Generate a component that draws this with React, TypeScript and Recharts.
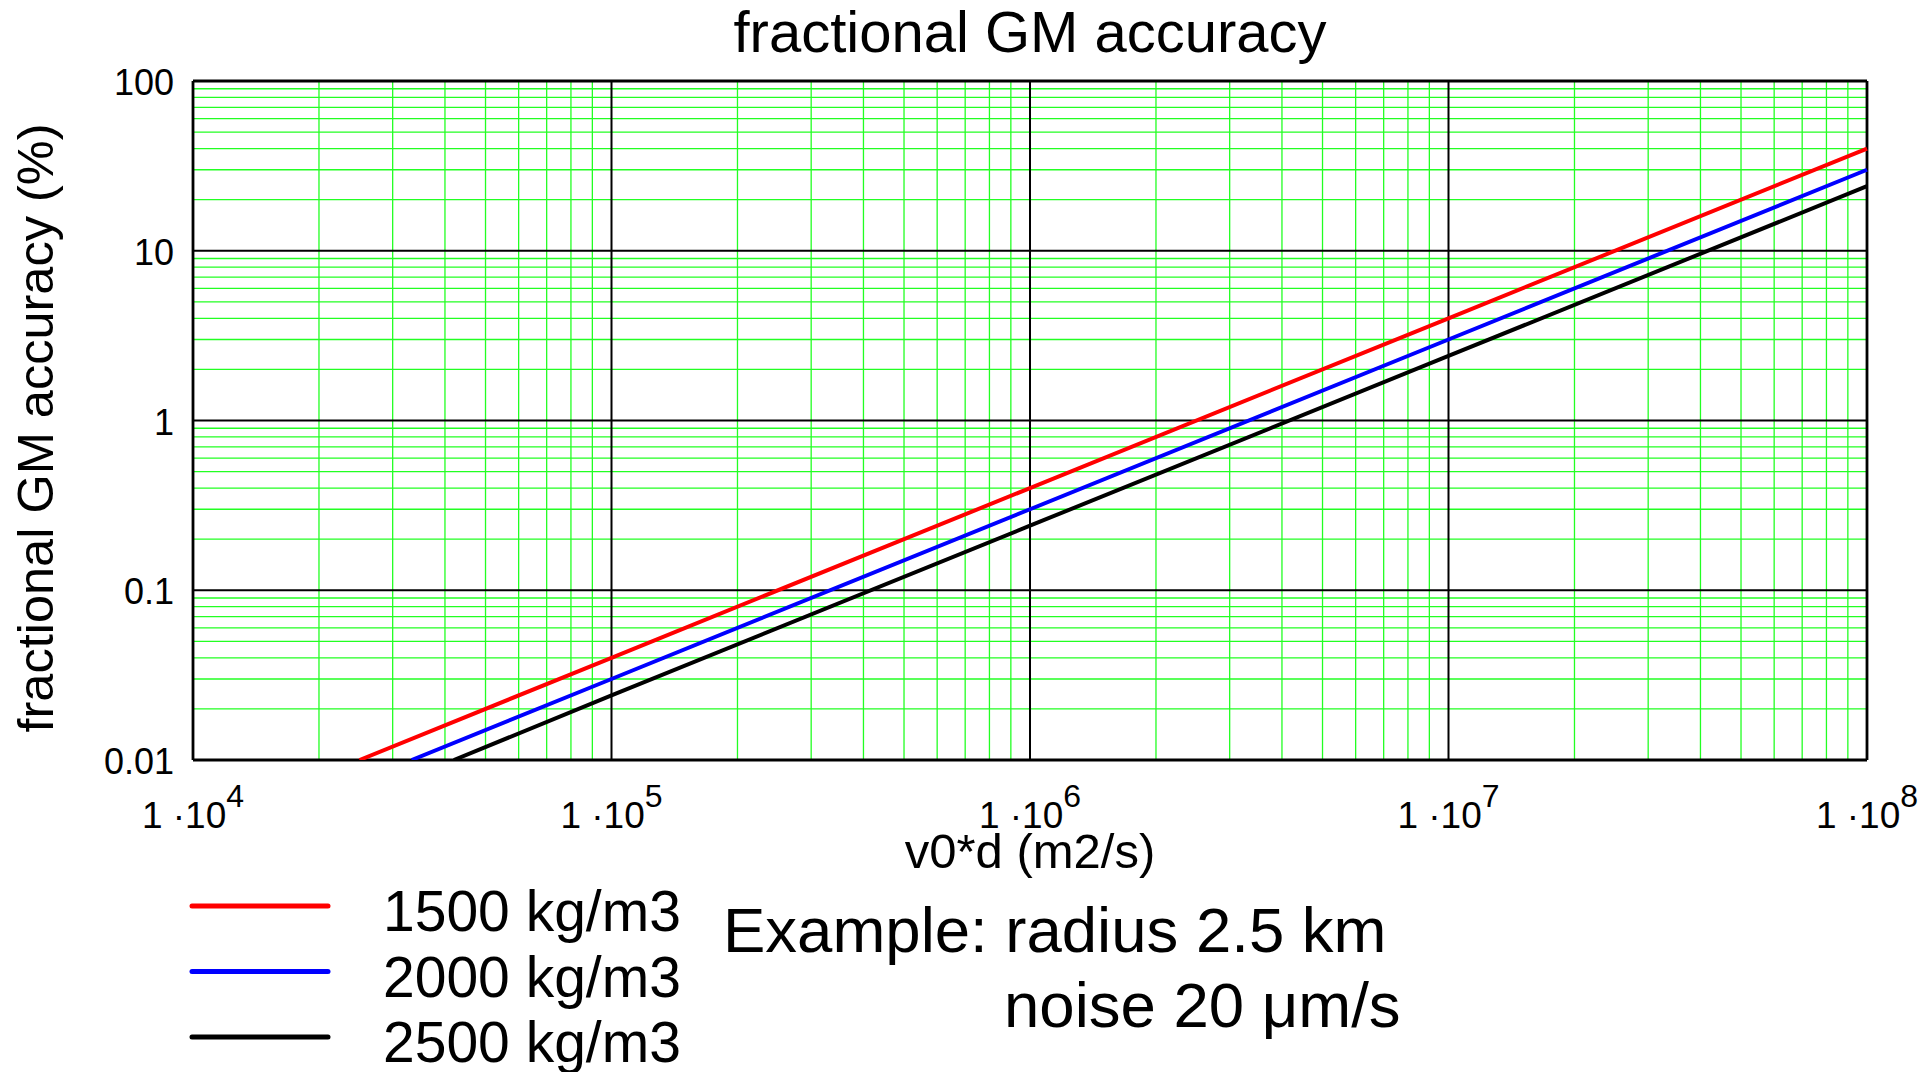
import { Legend, Line, LineChart, ReferenceLine, XAxis, YAxis } from "recharts";

const FONT = '"Liberation Sans", Arial, sans-serif';

// v0*d (m2/s) vs fractional GM accuracy (%)
const vd1500 = [2.5e4, 1e5, 1e6, 1e7, 1e8];
const acc1500 = [0.01, 0.04, 0.4, 4, 40];
const vd2000 = [3.33e4, 1e5, 1e6, 1e7, 1e8];
const acc2000 = [0.01, 0.03, 0.3, 3, 30];
const vd2500 = [4.2e4, 1e5, 1e6, 1e7, 1e8];
const acc2500 = [0.01, 0.024, 0.24, 2.4, 24];

const xTicks = [1e4, 1e5, 1e6, 1e7, 1e8];
const yTicks = [0.01, 0.1, 1, 10, 100];
const yTickLabels = ["0.01", "0.1", "1", "10", "100"];
const mantissas = [2, 3, 4, 5, 6, 7, 8, 9];

const xMinor = xTicks.slice(0, -1).flatMap((d) => mantissas.map((m) => m * d));
const yMinor = yTicks.slice(0, -1).flatMap((d) => mantissas.map((m) => +(m * d).toPrecision(3)));

const toRows = (xs: number[], ys: number[]) => xs.map((x, i) => ({ vd: x, acc: ys[i] }));

const series = [
  { name: "1500 kg/m3", color: "#ff0000", data: toRows(vd1500, acc1500) },
  { name: "2000 kg/m3", color: "#0000ff", data: toRows(vd2000, acc2000) },
  { name: "2500 kg/m3", color: "#000000", data: toRows(vd2500, acc2500) },
];

const XTick = (props: any) => {
  const { x, y, payload } = props;
  const exp = Math.round(Math.log10(payload.value));
  return (
    <text x={x} y={y + 60} textAnchor="middle" fontSize={37} fontFamily={FONT} fill="#000">
      <tspan>1 ·10</tspan>
      <tspan dy={-21} fontSize={32}>
        {exp}
      </tspan>
    </text>
  );
};

const YTick = (props: any) => {
  const { x, y, payload } = props;
  const idx = yTicks.findIndex((t) => Math.abs(t - payload.value) < t * 1e-6);
  return (
    <text x={x} y={y + 14} textAnchor="end" fontSize={36} fontFamily={FONT} fill="#000">
      {idx >= 0 ? yTickLabels[idx] : payload.value}
    </text>
  );
};

const LegendBox = (props: any) => {
  const items = props.payload || [];
  return (
    <svg width={540} height={202}>
      {items.map((it: any, i: number) => (
        <g key={it.value}>
          <line x1={12} x2={148} y1={36 + 65.5 * i} y2={36 + 65.5 * i} stroke={it.color} strokeWidth={5} strokeLinecap="round" />
          <text x={203} y={61 + 65.5 * i} fontSize={57} fontFamily={FONT} fill="#000">
            {it.value}
          </text>
        </g>
      ))}
    </svg>
  );
};

export default function App() {
  return (
    <div style={{ position: "absolute", left: 0, top: 0, background: "#fff" }}>
      <LineChart width={1926} height={1072} margin={{ top: 81, right: 59, left: 93, bottom: 252 }}>
        <XAxis
          dataKey="vd"
          type="number"
          scale="log"
          domain={[1e4, 1e8]}
          ticks={xTicks}
          height={60}
          axisLine={false}
          tickLine={false}
          tick={XTick}
          interval={0}
        />
        <YAxis
          dataKey="acc"
          type="number"
          scale="log"
          domain={[0.01, 100]}
          ticks={yTicks}
          width={100}
          allowDataOverflow
          axisLine={false}
          tickLine={false}
          tickMargin={13}
          tick={YTick}
          interval={0}
        />
        {xMinor.map((v) => (
          <ReferenceLine key={"xm" + v} x={v} stroke="#22ff22" strokeWidth={1.3} />
        ))}
        {yMinor.map((v) => (
          <ReferenceLine key={"ym" + v} y={v} stroke="#22ff22" strokeWidth={1.3} />
        ))}
        {xTicks.map((v, i) => (
          <ReferenceLine key={"xM" + v} x={v} stroke="#000" strokeWidth={i === 0 || i === xTicks.length - 1 ? 2.8 : 2} />
        ))}
        {yTicks.map((v, i) => (
          <ReferenceLine key={"yM" + v} y={v} stroke="#000" strokeWidth={i === 0 || i === yTicks.length - 1 ? 2.8 : 2} />
        ))}
        {series.map((s) => (
          <Line
            key={s.name}
            name={s.name}
            data={s.data}
            dataKey="acc"
            type="linear"
            stroke={s.color}
            strokeWidth={4}
            dot={false}
            activeDot={false}
            isAnimationActive={false}
          />
        ))}
        <Legend
          layout="vertical"
          align="center"
          verticalAlign="middle"
          content={LegendBox}
          wrapperStyle={{ left: 180, top: 870, width: 540, height: 202 }}
        />
        <text x={1030} y={52} textAnchor="middle" fontSize={58} fontFamily={FONT} fill="#000">
          fractional GM accuracy
        </text>
        <text
          x={53}
          y={428}
          transform="rotate(-90 53 428)"
          textAnchor="middle"
          fontSize={50.5}
          fontFamily={FONT}
          fill="#000"
        >
          fractional GM accuracy (%)
        </text>
        <text x={1030} y={868} textAnchor="middle" fontSize={49} fontFamily={FONT} fill="#000">
          v0*d (m2/s)
        </text>
        <text x={723} y={952} fontSize={63.5} fontFamily={FONT} fill="#000">
          Example: radius 2.5 km
        </text>
        <text x={1004} y={1027} fontSize={63.5} fontFamily={FONT} fill="#000">
          noise 20 μm/s
        </text>
      </LineChart>
    </div>
  );
}
